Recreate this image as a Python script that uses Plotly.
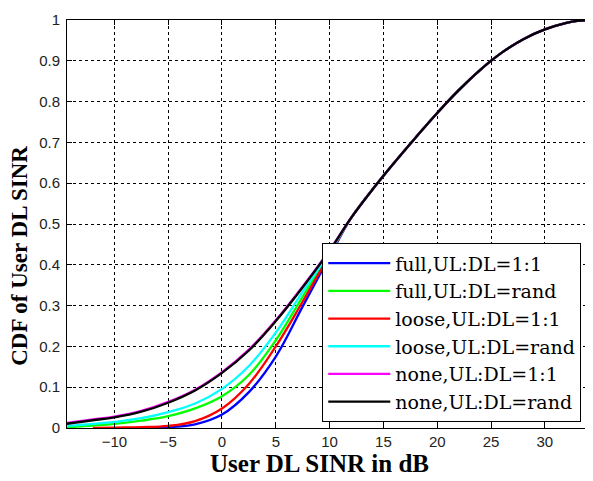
import plotly.graph_objects as go

# x positions (dB) at which the CDF curves were read
x_db = [-14.5, -12, -10, -7.5, -5, -2.5, 0, 2.5, 5, 7.5, 10,
        12, 14, 16, 18, 20, 22, 24, 26, 28, 30, 32, 33, 34.5]

# common upper part (x >= 12), where all curves overlap
upper_common = [0.515, 0.585, 0.65, 0.712, 0.772, 0.828, 0.878, 0.92,
                0.953, 0.977, 0.993, 0.998, 1.0]

full_11 = [None, None, None, 0.0, 0.002, 0.009, 0.033, 0.088, 0.175, 0.298, 0.42]
full_rand = [0.002, 0.006, 0.01, 0.018, 0.029, 0.048, 0.078, 0.13, 0.215, 0.322, 0.428]
loose_11 = [None, 0.0, 0.001, 0.002, 0.005, 0.017, 0.048, 0.108, 0.2, 0.31, 0.425]
loose_rand = [0.005, 0.01, 0.015, 0.024, 0.039, 0.06, 0.096, 0.152, 0.234, 0.334, 0.43]
none_11 = [0.012, 0.021, 0.028, 0.042, 0.064, 0.094, 0.137, 0.192, 0.264, 0.347, 0.436]
none_rand = [0.01, 0.019, 0.026, 0.04, 0.062, 0.092, 0.135, 0.19, 0.262, 0.345, 0.435]

names = ["full,UL:DL=1:1", "full,UL:DL=rand", "loose,UL:DL=1:1",
         "loose,UL:DL=rand", "none,UL:DL=1:1", "none,UL:DL=rand"]
colors = ["#0000FF", "#00FF00", "#FF0000", "#00FFFF", "#FF00FF", "#000000"]
series = [full_11, full_rand, loose_11, loose_rand, none_11, none_rand]

x_ticks = [-10, -5, 0, 5, 10, 15, 20, 25, 30]
y_ticks = [0, 0.1, 0.2, 0.3, 0.4, 0.5, 0.6, 0.7, 0.8, 0.9, 1]
y_tick_text = ["0", "0.1", "0.2", "0.3", "0.4", "0.5", "0.6", "0.7", "0.8", "0.9", "1"]

fig = go.Figure()
for name, col, low in zip(names, colors, series):
    fig.add_trace(go.Scatter(
        x=x_db, y=low + upper_common, name=name, mode="lines",
        line=dict(color=col, width=2.3, shape="spline", smoothing=1.1),
    ))

axis_common = dict(
    showline=True, linecolor="black", linewidth=1, mirror="ticks",
    ticks="inside", ticklen=5, tickcolor="black",
    showgrid=True, gridcolor="black", griddash="dot", gridwidth=1,
    zeroline=False, ticklabeloverflow="allow",
    tickfont=dict(family="Liberation Sans, Arial", size=15, color="#222"),
)

fig.update_xaxes(range=[-14.4, 34.1], tickvals=x_ticks, **axis_common)
fig.update_yaxes(range=[0, 1], tickvals=y_ticks, ticktext=y_tick_text,
                 ticklabelstandoff=3, **axis_common)

# page body has an 8px margin, so the figure is 8px smaller than the window
fig.update_layout(
    width=585, height=473,
    margin=dict(l=59, r=3, t=5, b=53),
    paper_bgcolor="white", plot_bgcolor="white",
    showlegend=True,
    legend=dict(
        x=0.489, y=0.014, xanchor="left", yanchor="bottom",
        bgcolor="white", bordercolor="black", borderwidth=1,
        font=dict(family="DejaVu Serif", size=19, color="black"),
        tracegroupgap=0, itemwidth=62,
    ),
    annotations=[
        dict(text="<b>User DL SINR in dB</b>", xref="paper", yref="paper",
             x=0.484, y=0, yshift=-35, xanchor="center", yanchor="middle",
             showarrow=False,
             font=dict(family="Liberation Serif, Times New Roman", size=25, color="black")),
        dict(text="<b>CDF of User DL SINR</b>", xref="paper", yref="paper",
             x=0, xshift=-47, y=0.422, xanchor="center", yanchor="middle",
             textangle=-90, showarrow=False,
             font=dict(family="Liberation Serif, Times New Roman", size=23, color="black")),
    ],
)

fig.write_html("out.html")
